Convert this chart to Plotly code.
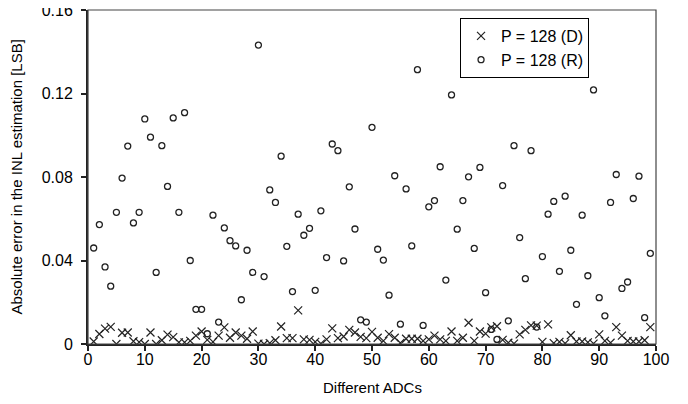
import plotly.graph_objects as go

adc_r = list(range(1, 100))
err_r = [0.046, 0.0572, 0.0369, 0.0277, 0.0631, 0.0795, 0.0948, 0.058, 0.0631, 0.1078,
         0.0991, 0.0343, 0.095, 0.0755, 0.1083, 0.0631, 0.1108, 0.040, 0.0166, 0.0166,
         0.0049, 0.0617, 0.0105, 0.0556, 0.0495, 0.047, 0.0212, 0.0449, 0.0343, 0.1432,
         0.0323, 0.0738, 0.0678, 0.090, 0.0468, 0.0251, 0.0622, 0.0521, 0.0554, 0.0257,
         0.0638, 0.0414, 0.0958, 0.0926, 0.0398, 0.0753, 0.0551, 0.0116, 0.0105, 0.1038,
         0.0454, 0.0402, 0.0234, 0.0806, 0.0095, 0.0743, 0.047, 0.1314, 0.0089, 0.0657,
         0.0687, 0.0849, 0.0306, 0.1193, 0.055, 0.0687, 0.0801, 0.0458, 0.0846, 0.0246,
         0.007, 0.0022, 0.0759, 0.0111, 0.095, 0.051, 0.0313, 0.0926, 0.0081, 0.0419,
         0.0622, 0.0683, 0.0348, 0.0708, 0.0449, 0.019, 0.0617, 0.0327, 0.1217, 0.0222,
         0.0135, 0.0678, 0.0812, 0.0266, 0.0297, 0.0697, 0.0804, 0.0126, 0.0434]

adc_d = list(range(1, 100))
err_d = [0.0012, 0.0048, 0.0074, 0.0082, 0.0000, 0.0054, 0.0055, 0.0013, 0.0009, 0.0000,
         0.0055, 0.0000, 0.0018, 0.0045, 0.0033, 0.0008, 0.0008, 0.0015, 0.0040, 0.0060,
         0.0020, 0.0010, 0.0040, 0.0080, 0.0030, 0.0055, 0.0040, 0.0025, 0.0060, 0.0002,
         0.0000, 0.0004, 0.0018, 0.0084, 0.0028, 0.0028, 0.0161, 0.0022, 0.0020, 0.0010,
         0.0002, 0.0022, 0.0075, 0.0028, 0.0036, 0.0068, 0.0055, 0.0034, 0.0028, 0.0058,
         0.0030, 0.0015, 0.0047, 0.0030, 0.0005, 0.0025, 0.0025, 0.0025, 0.0015, 0.0022,
         0.0040, 0.0022, 0.0015, 0.0060, 0.0015, 0.0030, 0.0102, 0.0015, 0.0060, 0.0050,
         0.0080, 0.0085, 0.0020, 0.0006, 0.0002, 0.0046, 0.0068, 0.0089, 0.0088, 0.0010,
         0.0094, 0.0004, 0.0010, 0.0003, 0.0042, 0.0012, 0.0012, 0.0008, 0.0002, 0.0046,
         0.0015, 0.0006, 0.0081, 0.0040, 0.0015, 0.0012, 0.0012, 0.0018, 0.0081]

x_ticks = [0, 10, 20, 30, 40, 50, 60, 70, 80, 90, 100]
y_ticks = [0, 0.04, 0.08, 0.12, 0.16]
y_tick_labels = ["0", "0.04", "0.08", "0.12", "0.16"]

FONT = "Liberation Sans, Arial, sans-serif"
INK = "#222222"

fig = go.Figure()
fig.add_trace(go.Scatter(
    x=adc_d, y=err_d, mode="markers", name="P = 128 (D)",
    marker=dict(symbol="x-thin-open", size=8, color=INK, line=dict(width=1.2, color=INK)),
))
fig.add_trace(go.Scatter(
    x=adc_r, y=err_r, mode="markers", name="P = 128 (R)",
    marker=dict(symbol="circle-open", size=6, color=INK, line=dict(width=1.3, color=INK)),
))

fig.update_layout(
    width=688, height=404,
    margin=dict(l=80, r=40, t=2, b=68, autoexpand=False),
    paper_bgcolor="white", plot_bgcolor="white",
    font=dict(family=FONT, size=16, color="black"),
    showlegend=True,
    legend=dict(
        x=0.655, y=0.976, xanchor="left", yanchor="top",
        bordercolor="black", borderwidth=1, bgcolor="white",
        font=dict(family=FONT, size=16, color="black"),
        tracegroupgap=0, itemsizing="trace",
    ),
    xaxis=dict(
        range=[0, 100], tickvals=x_ticks, ticks="outside", ticklen=5, tickwidth=1.5,
        tickcolor=INK, showline=True, linecolor=INK, linewidth=2, showgrid=False,
        zeroline=False, tickfont=dict(size=16), automargin=False,
        ticklabelstandoff=-5, ticklabeloverflow="allow",
    ),
    yaxis=dict(
        range=[0, 0.16], tickvals=y_ticks, ticktext=y_tick_labels, ticks="outside",
        ticklen=5, tickwidth=1.5, tickcolor=INK, showline=True, linecolor=INK,
        linewidth=2, showgrid=False, zeroline=False, tickfont=dict(size=16),
        automargin=False, ticklabelstandoff=5, ticklabeloverflow="allow",
    ),
    shapes=[dict(type="rect", xref="paper", yref="paper", x0=0, y0=0, x1=1, y1=1,
                 line=dict(color="#444444", width=1.2), layer="above")],
    annotations=[
        dict(text="Different ADCs", xref="paper", yref="paper", x=0.5, y=-0.1304,
             xanchor="center", yanchor="middle", showarrow=False,
             font=dict(family=FONT, size=15, color="black")),
        dict(text="Absolute error in the INL estimation [LSB]", xref="paper", yref="paper",
             x=-0.1276, y=0.5, xanchor="center", yanchor="middle", textangle=-90,
             showarrow=False, font=dict(family=FONT, size=15, color="black")),
    ],
)

fig.write_html("out.html")
